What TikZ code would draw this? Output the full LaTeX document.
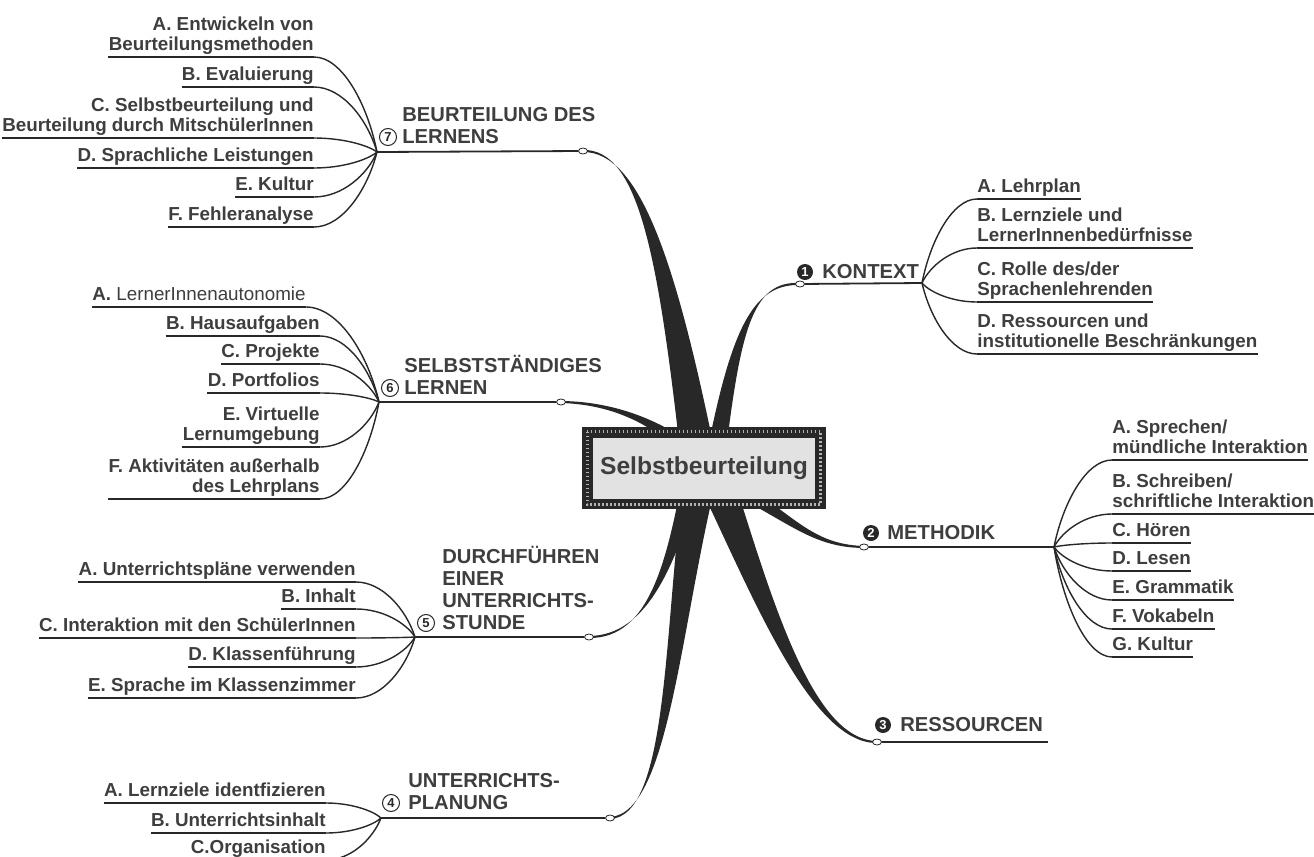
\documentclass[tikz,border=0pt]{standalone}
\usepackage{fontspec}
\setmainfont{Liberation Sans}
\usetikzlibrary{calc,shapes.geometric,backgrounds}

\definecolor{ink}{RGB}{40,40,40}
\definecolor{type}{RGB}{62,62,62}
\definecolor{paper}{RGB}{226,226,226}

\newcommand{\itemfont}{\fontsize{9.4}{10}\selectfont\bfseries}
\newcommand{\titlefont}{\fontsize{10.1}{11}\selectfont\bfseries}
\newcommand{\corefont}{\fontsize{12.3}{14}\selectfont\bfseries}
\newcommand{\numfont}{\fontsize{6.5}{7}\selectfont\bfseries}

% tapered main branch: base, start shift, c1, c2, end, half width
\newcommand{\limb}[6]{%
  \fill[limb] ($#1+#2+#6$) .. controls ($#3+0.5*#6$) and ($#4+(0,-1.6)$) .. ($#5+(0,-1)$)
    -- ($#5+(0,1)$) .. controls ($#4+(0,1.6)$) and ($#3-0.5*#6$) .. ($#1+#2-#6$) -- cycle;}

\begin{document}
\begin{tikzpicture}[x=0.5pt,y=-0.5pt,
    item/.style={font=\itemfont,text=type,inner xsep=0pt,inner ysep=0.5pt,text depth=2.5pt},
    leftitem/.style={item,anchor=south east,align=right},
    rightitem/.style={item,anchor=south west,align=left},
    title/.style={font=\titlefont,text=type,inner sep=0pt,anchor=south west,align=left},
    rule/.style={draw=ink,line width=1.1pt},
    twig/.style={draw=ink,line width=0.7pt},
    stem/.style={draw=ink,line width=0.9pt},
    limb/.style={fill=ink},
    knot/.style={ellipse,draw=ink,fill=white,line width=0.4pt,inner sep=0pt,minimum width=4.5pt,minimum height=3pt},
    numo/.style={circle,draw=ink,fill=white,line width=0.5pt,inner sep=0pt,minimum size=8.5pt,font=\numfont,text=ink},
    numf/.style={circle,fill=ink,inner sep=0pt,minimum size=8pt,font=\numfont,text=white},
    core/.style={draw=ink,fill=paper,line width=0.4pt,minimum width=111.5pt,minimum height=31pt,font=\corefont,text=type}]

  \useasboundingbox (0,0) rectangle (1314,857);

  % centre
  \node[core] (core) at (704,468) {Selbstbeurteilung};
  \draw[ink,line width=5pt] ([shift={(-5,-5)}]core.north west) rectangle ([shift={(5,5)}]core.south east);
  \draw[gray!60,line width=1.5pt,dash pattern=on 0.8pt off 1.2pt] ([shift={(-5,-5)}]core.north west) rectangle ([shift={(5,5)}]core.south east);

  % knots and hubs
  \node[knot] (k7) at (583,151) {};
  \node[knot] (k6) at (561,402) {};
  \node[knot] (k5) at (589,637) {};
  \node[knot] (k4) at (610,818) {};
  \node[knot] (k1) at (800,284) {};
  \node[knot] (k2) at (864,547) {};
  \node[knot] (k3) at (877,742) {};
  \coordinate (h7) at (377,152);
  \coordinate (h6) at (379,402);
  \coordinate (h5) at (415,637);
  \coordinate (h4) at (381,818);
  \coordinate (h1) at (922,283);
  \coordinate (h2) at (1054,547);
  \coordinate (e3) at (1048,742);

  \begin{scope}[on background layer]
    \fill[white] (0,0) rectangle (1314,857);
    \limb{(core)}{(-4,0)}{(668,262)}{(640,150)}{(k7)}{(-18,0)}
    \limb{(core)}{(10,0)}{(735,330)}{(752,282)}{(k1)}{(10,0)}
    \limb{(core)}{(-4,-6)}{(668,428)}{(620,403)}{(k6)}{(6.5,-6.2)}
    \limb{(core)}{(8,6)}{(790,515)}{(808,546)}{(k2)}{(5.8,-6.9)}
    \limb{(core)}{(8,2)}{(760,590)}{(810,742)}{(k3)}{(17,-6)}
    \limb{(core)}{(-10,2)}{(672,560)}{(650,637)}{(k5)}{(10,0)}
    \limb{(core)}{(-2,2)}{(672,620)}{(670,815)}{(k4)}{(17,0)}
  \end{scope}

  \draw[stem] (k7) -- (h7);
  \draw[stem] (k6) -- (h6);
  \draw[stem] (k5) -- (h5);
  \draw[stem] (k4) -- (h4);
  \draw[stem] (k1) -- (h1);
  \draw[stem] (k2) -- (h2);
  \draw[stem] (k3) -- (e3);

  % titles
  \node[numo] (n7) at (388,137) {7};
  \node[title] (t7) at (402,144) {BEURTEILUNG DES\\LERNENS};
  \node[numo] (n6) at (390,388) {6};
  \node[title] (t6) at (404,395) {SELBSTSTÄNDIGES\\LERNEN};
  \node[numo] (n5) at (426,623) {5};
  \node[title] (t5) at (442,630) {DURCHFÜHREN\\EINER\\UNTERRICHTS-\\STUNDE};
  \node[numo] (n4) at (391,803) {4};
  \node[title] (t4) at (408,810) {UNTERRICHTS-\\PLANUNG};
  \node[numf] (n1) at (805,272) {1};
  \node[title] (t1) at (822,279) {KONTEXT};
  \node[numf] (n2) at (871,533) {2};
  \node[title] (t2) at (887,540) {METHODIK};
  \node[numf] (n3) at (883,725) {3};
  \node[title] (t3) at (900,732) {RESSOURCEN};

  % items
  \node[leftitem] (b7a) at (314,57) {A. Entwickeln von\\Beurteilungsmethoden};
  \node[leftitem] (b7b) at (314,87) {B. Evaluierung};
  \node[leftitem] (b7c) at (314,138) {C. Selbstbeurteilung und\\Beurteilung durch MitschülerInnen};
  \node[leftitem] (b7d) at (314,168) {D. Sprachliche Leistungen};
  \node[leftitem] (b7e) at (314,197) {E. Kultur};
  \node[leftitem] (b7f) at (314,227) {F. Fehleranalyse};

  \node[leftitem] (b6a) at (306,307) {A. \mdseries LernerInnenautonomie};
  \node[leftitem] (b6b) at (320,336) {B. Hausaufgaben};
  \node[leftitem] (b6c) at (320,364) {C. Projekte};
  \node[leftitem] (b6d) at (320,393) {D. Portfolios};
  \node[leftitem] (b6e) at (320,447) {E. Virtuelle\\Lernumgebung};
  \node[leftitem] (b6f) at (320,499) {F. Aktivitäten außerhalb\\des Lehrplans};

  \node[leftitem] (b5a) at (356,582) {A. Unterrichtspläne verwenden};
  \node[leftitem] (b5b) at (356,609) {B. Inhalt};
  \node[leftitem] (b5c) at (356,638) {C. Interaktion mit den SchülerInnen};
  \node[leftitem] (b5d) at (356,667) {D. Klassenführung};
  \node[leftitem] (b5e) at (356,698) {E. Sprache im Klassenzimmer};

  \node[leftitem] (b4a) at (326,803) {A. Lernziele identfizieren};
  \node[leftitem] (b4b) at (326,833) {B. Unterrichtsinhalt};
  \node[leftitem] (b4c) at (326,860) {C.Organisation};

  \node[rightitem] (b1a) at (977,199) {A. Lehrplan};
  \node[rightitem] (b1b) at (977,248) {B. Lernziele und\\LernerInnenbedürfnisse};
  \node[rightitem] (b1c) at (977,302) {C. Rolle des/der\\Sprachenlehrenden};
  \node[rightitem] (b1d) at (977,354) {D. Ressourcen und\\institutionelle Beschränkungen};

  \node[rightitem] (b2a) at (1112,460) {A. Sprechen/\\mündliche Interaktion};
  \node[rightitem] (b2b) at (1112,514) {B. Schreiben/\\schriftliche Interaktion};
  \node[rightitem] (b2c) at (1112,543) {C. Hören};
  \node[rightitem] (b2d) at (1112,571) {D. Lesen};
  \node[rightitem] (b2e) at (1112,600) {E. Grammatik};
  \node[rightitem] (b2f) at (1112,629) {F. Vokabeln};
  \node[rightitem] (b2g) at (1112,657) {G. Kultur};

  % underlines and twigs
  \foreach \h/\l in {h7/{b7a,b7b,b7c,b7d,b7e,b7f},h6/{b6a,b6b,b6c,b6d,b6e,b6f},h5/{b5a,b5b,b5c,b5d,b5e},h4/{b4a,b4b,b4c}}
    \foreach \n in \l {
      \draw[rule] (\n.south west) -- (\n.south east);
      \coordinate (p) at ($(\h|-\n.south east)!0.3!(\n.south east)$);
      \draw[twig] (\h) .. controls ($(\h)!0.5!(p)$) and ($(\n.south east)!0.45!(\h|-\n.south east)$) .. (\n.south east);
    }
  \foreach \h/\l in {h1/{b1a,b1b,b1c,b1d},h2/{b2a,b2b,b2c,b2d,b2e,b2f,b2g}}
    \foreach \n in \l {
      \draw[rule] (\n.south west) -- (\n.south east);
      \coordinate (p) at ($(\h|-\n.south west)!0.3!(\n.south west)$);
      \draw[twig] (\h) .. controls ($(\h)!0.5!(p)$) and ($(\n.south west)!0.45!(\h|-\n.south west)$) .. (\n.south west);
    }
\end{tikzpicture}
\end{document}
